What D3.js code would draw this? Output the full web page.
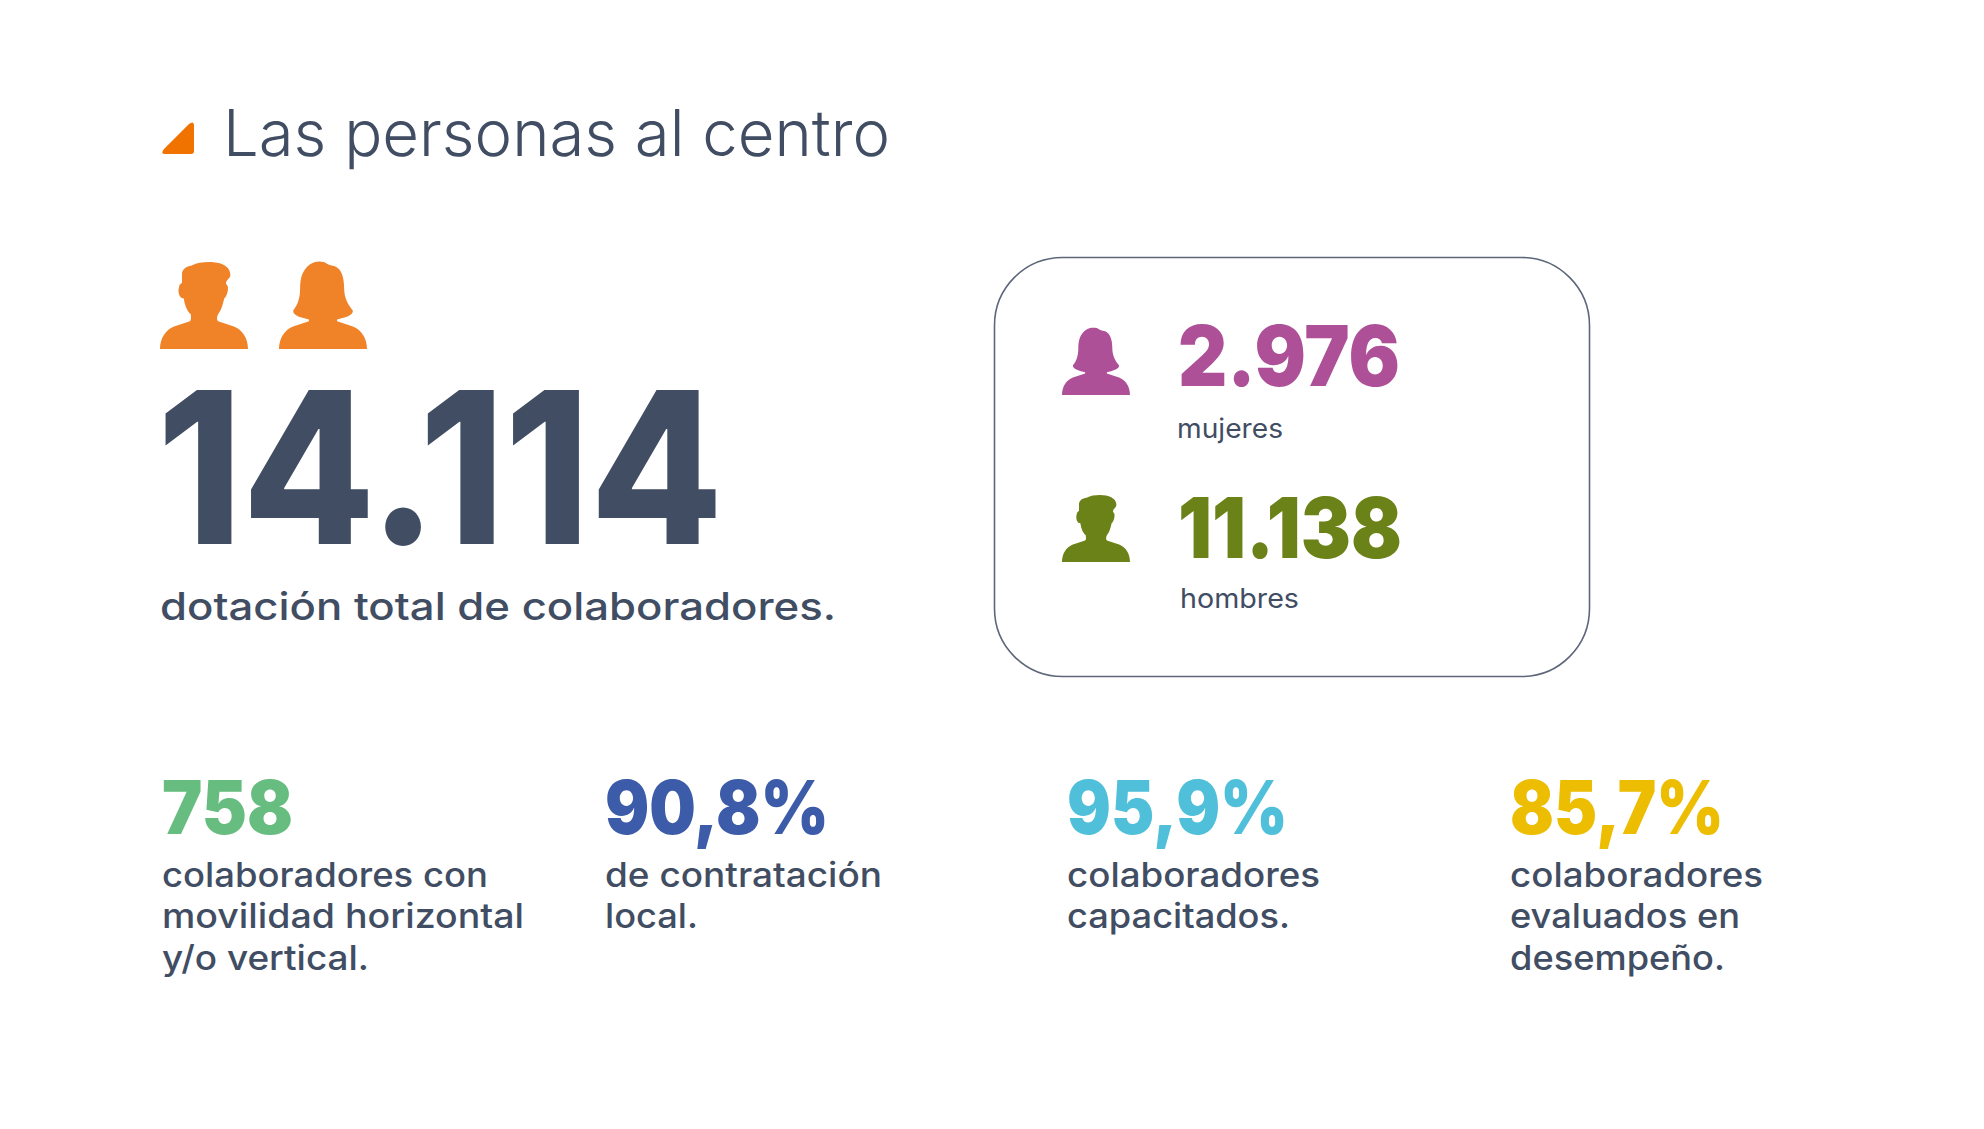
<!DOCTYPE html>
<html><head><meta charset="utf-8">
<script src="https://cdn.jsdelivr.net/npm/d3@7"></script>
<style>html,body{margin:0;background:#fff}svg{display:block}text{font-family:Inter,"Open Sans",sans-serif}</style>
</head><body><svg id="c" width="1984" height="1129"></svg>
<script>
const title = "Las personas al centro";
const totalValue = "14.114";
const totalLabel = "dotación total de colaboradores.";
const genderValues = ["2.976", "11.138"];
const genderLabels = ["mujeres", "hombres"];
const kpiValues = ["758", "90,8%", "95,9%", "85,7%"];
const kpiLabels = [
  ["colaboradores con", "movilidad horizontal", "y/o vertical."],
  ["de contratación", "local."],
  ["colaboradores", "capacitados."],
  ["colaboradores", "evaluados en", "desempeño."]
];
const kpiColors = ["#66bd7f", "#3c5ba8", "#50c0da", "#ecbd00"];
const genderColors = ["#ae5097", "#6b8218"];

const INK = "#414d63";
const svg = d3.select("#c");
const manPath = "M0,100 C0,88 6,78 16,74 L34,68 C36,66 35,62 35,60 C30,56 28,48 27,42 C23,42 21,38 21,32 L22,27 C23,25 24,24 25,24 L25,14 C25,8 30,5 36,4 C42,1 48,0 56,0 C68,0 80,4 80,15 C80,19 75,20 75,25 L77,28 C78,32 76,40 73,42 C71,50 70,55 66,60 C65,62 64,66 66,68 L84,74 C94,78 100,88 100,100 Z";
const womanPath = "M0,100 C0,88 6,78 16,74 L34,68 L34,66 C26,64 16,62 16,56 C21,50 24,42 24,30 C24,18 27,9 35,3 C40,-1 46,-1 51,0 C54,1 56,4 60,4 C70,5 74,16 74,30 C74,42 79,50 84,56 C84,62 74,64 66,66 L66,68 L84,74 C94,78 100,88 100,100 Z";

function label(str, x, y, size, weight, fill, width) {
  return svg.append("text").attr("x", x).attr("y", y)
    .attr("font-size", size).attr("font-weight", weight).attr("fill", fill)
    .attr("textLength", width).attr("lengthAdjust", "spacingAndGlyphs").text(str);
}
function icon(path, x, y, w, h, fill) {
  svg.append("path").attr("d", path).attr("fill", fill)
    .attr("transform", `translate(${x},${y}) scale(${w/100},${h/100})`);
}

// header
svg.append("path").attr("d", "M164,149 L189,124 Q194,120 194,126 L194,151 Q194,154 191,154 L165,154 Q160,154 164,149 Z").attr("fill", "#f07300");
label(title, 223, 156, 64, 300, INK, 667);

// total
icon(manPath, 160, 262, 88, 87, "#f08227");
icon(womanPath, 279, 262, 88, 87, "#f08227");
label(totalValue, 157, 544, 212, 800, INK, 566);
label(totalLabel, 160, 620, 38, 500, INK, 676);

// gender box
svg.append("rect").attr("x", 994.5).attr("y", 257.5).attr("width", 595).attr("height", 419)
  .attr("rx", 68).attr("fill", "none").attr("stroke", "#5d667a").attr("stroke-width", 1.6);
const gY = d3.scaleOrdinal().domain(genderLabels).range([385.5, 557.5]);
const gW = [222, 224], lW = [106, 119], gX = [1178, 1178], lX = [1177, 1180];
[womanPath, manPath].forEach((p, i) => icon(p, 1062, gY(genderLabels[i]) - (i ? 62.5 : 57.5), 68, 67, genderColors[i]));
genderValues.forEach((v, i) => {
  label(v, gX[i], gY(genderLabels[i]), 84, 900, genderColors[i], gW[i]);
  label(genderLabels[i], lX[i], gY(genderLabels[i]) + (i ? 50 : 52), 27, 400, INK, lW[i]);
});

// KPI columns
const kX = d3.scaleOrdinal().domain(kpiValues).range([162, 605, 1067, 1510]);
const kW = [131, 224, 221, 214];
const lineW = [[326, 362, 207], [277, 93], [253, 223], [253, 230, 215]];
const lineY = [886.5, 928, 970];
kpiValues.forEach((v, i) => {
  label(v, kX(v), 834, 74, 900, kpiColors[i], kW[i]);
  kpiLabels[i].forEach((l, j) => label(l, kX(v), lineY[j], 34, 500, INK, lineW[i][j]));
});
</script></body></html>
